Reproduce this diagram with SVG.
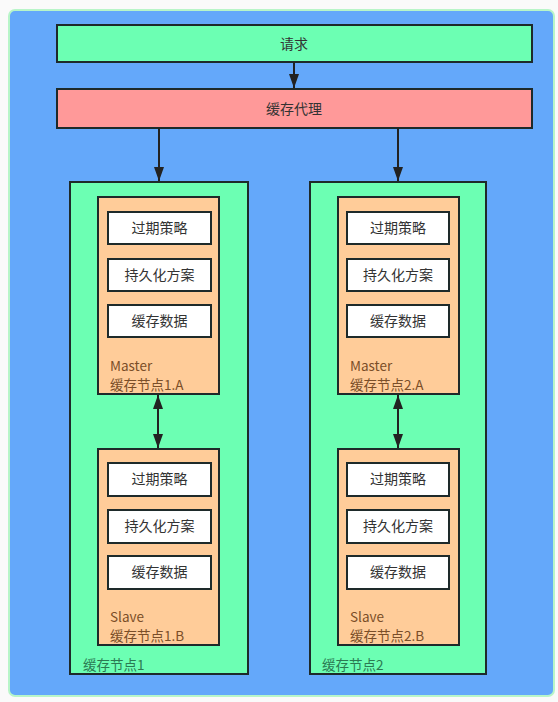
<svg xmlns="http://www.w3.org/2000/svg" width="558" height="702" viewBox="0 0 558 702">
<defs>
<style>
.box{stroke:#1e2a2a;stroke-width:2}
.t{font-family:"Noto Sans CJK SC","Noto Sans",sans-serif;font-size:14px;fill:#333}
.lbl{font-family:"Noto Sans CJK SC","Noto Sans",sans-serif;font-size:13.5px;fill:#7a4e28}
.glbl{font-family:"Noto Sans CJK SC","Noto Sans",sans-serif;font-size:13.5px;fill:#2b7a52}
.c{stroke:#222;stroke-width:2;fill:none}
</style>
<marker id="ah" viewBox="0 0 14 10" refX="14" refY="5" markerWidth="7" markerHeight="5" markerUnits="strokeWidth" orient="auto-start-reverse">
<path d="M0,0 L14,5 L0,10 z" fill="#222"/>
</marker>
</defs>
<rect width="558" height="702" fill="#fafafa"/>
<rect x="9" y="10" width="545" height="686" rx="6" fill="#64a8fa" stroke="#b8f5c8" stroke-width="2"/>
<g id="request">
<rect class="box" x="57" y="25" width="475" height="37" fill="#6cffb3"/>
<text class="t" x="294" y="49" text-anchor="middle">请求</text>
</g>
<g id="proxy">
<rect class="box" x="57" y="89" width="475" height="39" fill="#ff9999"/>
<text class="t" x="294" y="114" text-anchor="middle">缓存代理</text>
</g>
<g id="node1">
<rect class="box" x="70" y="182" width="178" height="492" fill="#6cffb3"/>
<text class="glbl" x="83" y="670">缓存节点1</text>
</g>
<g id="master1">
<rect class="box" x="98" y="197" width="121" height="197" fill="#ffcc99"/>
<rect class="box" x="108" y="212" width="103" height="32" fill="#fff"/>
<text class="t" x="159.5" y="233" text-anchor="middle">过期策略</text>
<rect class="box" x="108" y="259" width="103" height="32" fill="#fff"/>
<text class="t" x="159.5" y="280" text-anchor="middle">持久化方案</text>
<rect class="box" x="108" y="305" width="103" height="32" fill="#fff"/>
<text class="t" x="159.5" y="326" text-anchor="middle">缓存数据</text>
<text class="lbl" x="110" y="371">Master</text>
<text class="lbl" x="110" y="390">缓存节点1.A</text>
</g>
<g id="slave1">
<rect class="box" x="98" y="449" width="121" height="196" fill="#ffcc99"/>
<rect class="box" x="108" y="463" width="103" height="33" fill="#fff"/>
<text class="t" x="159.5" y="484" text-anchor="middle">过期策略</text>
<rect class="box" x="108" y="510" width="103" height="33" fill="#fff"/>
<text class="t" x="159.5" y="531" text-anchor="middle">持久化方案</text>
<rect class="box" x="108" y="556" width="103" height="33" fill="#fff"/>
<text class="t" x="159.5" y="577" text-anchor="middle">缓存数据</text>
<text class="lbl" x="110" y="622">Slave</text>
<text class="lbl" x="110" y="641">缓存节点1.B</text>
</g>
<g id="node2">
<rect class="box" x="310" y="182" width="176" height="492" fill="#6cffb3"/>
<text class="glbl" x="322" y="670">缓存节点2</text>
</g>
<g id="master2">
<rect class="box" x="338" y="197" width="121" height="197" fill="#ffcc99"/>
<rect class="box" x="347" y="212" width="102" height="32" fill="#fff"/>
<text class="t" x="398" y="233" text-anchor="middle">过期策略</text>
<rect class="box" x="347" y="259" width="102" height="32" fill="#fff"/>
<text class="t" x="398" y="280" text-anchor="middle">持久化方案</text>
<rect class="box" x="347" y="305" width="102" height="32" fill="#fff"/>
<text class="t" x="398" y="326" text-anchor="middle">缓存数据</text>
<text class="lbl" x="350" y="371">Master</text>
<text class="lbl" x="350" y="390">缓存节点2.A</text>
</g>
<g id="slave2">
<rect class="box" x="338" y="449" width="121" height="196" fill="#ffcc99"/>
<rect class="box" x="347" y="463" width="102" height="33" fill="#fff"/>
<text class="t" x="398" y="484" text-anchor="middle">过期策略</text>
<rect class="box" x="347" y="510" width="102" height="33" fill="#fff"/>
<text class="t" x="398" y="531" text-anchor="middle">持久化方案</text>
<rect class="box" x="347" y="556" width="102" height="33" fill="#fff"/>
<text class="t" x="398" y="577" text-anchor="middle">缓存数据</text>
<text class="lbl" x="350" y="622">Slave</text>
<text class="lbl" x="350" y="641">缓存节点2.B</text>
</g>
<g id="connectors">
<path class="c" d="M294,62 L294,88" marker-end="url(#ah)"/>
<path class="c" d="M159,128 L159,181" marker-end="url(#ah)"/>
<path class="c" d="M398,128 L398,181" marker-end="url(#ah)"/>
<path class="c" d="M158,395 L158,448" marker-start="url(#ah)" marker-end="url(#ah)"/>
<path class="c" d="M398,395 L398,448" marker-start="url(#ah)" marker-end="url(#ah)"/>
</g>
</svg>
